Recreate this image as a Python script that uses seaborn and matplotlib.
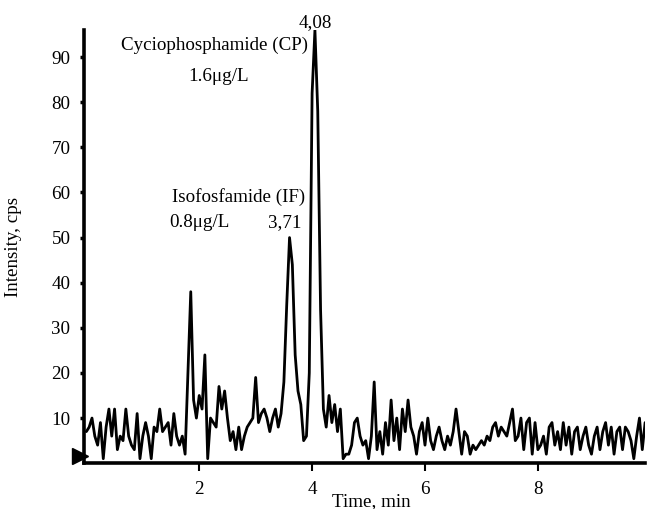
import numpy as np
import pandas as pd
import matplotlib
matplotlib.use("Agg")
import matplotlib.pyplot as plt
import seaborn as sns

# Chromatogram trace: intensity (cps) sampled every 0.05 min from 0 to 9.9 min
step_min = 0.05
intensity = [
    7, 8, 10, 6, 4, 9, 1, 8, 12, 6,          # 0.00-0.45
    12, 3, 6, 5, 12, 6, 4, 3, 11, 1,         # 0.50-0.95
    6, 9, 6, 1, 8, 7, 12, 7, 8, 9,           # 1.00-1.45
    4, 11, 6, 4, 6, 2, 20, 38, 14, 10,       # 1.50-1.95
    15, 12, 24, 1, 10, 9, 8, 17, 12, 16,     # 2.00-2.45
    10, 5, 7, 3, 8, 3, 6, 8, 9, 10,          # 2.50-2.95
    19, 9, 11, 12, 10, 7, 10, 12, 8, 11,     # 3.00-3.45
    18, 35, 50, 44, 24, 16, 13, 5, 6, 20,    # 3.50-3.95
    82, 96, 78, 34, 12, 8, 15, 9, 13, 7,     # 4.00-4.45
    12, 1, 2, 2, 4, 9, 10, 6, 4, 5,          # 4.50-4.95
    1, 6, 18, 3, 7, 2, 9, 4, 14, 5,          # 5.00-5.45
    10, 3, 12, 7, 14, 8, 6, 2, 7, 9,         # 5.50-5.95
    4, 10, 5, 3, 6, 8, 5, 3, 6, 4,           # 6.00-6.45
    7, 12, 7, 2, 7, 6, 2, 4, 3, 4,           # 6.50-6.95
    5, 4, 6, 5, 8, 9, 6, 8, 7, 6,            # 7.00-7.45
    9, 12, 5, 6, 10, 3, 9, 10, 2, 9,         # 7.50-7.95
    3, 4, 6, 2, 8, 9, 4, 7, 3, 9,            # 8.00-8.45
    4, 8, 2, 7, 8, 3, 6, 8, 4, 2,            # 8.50-8.95
    6, 8, 3, 7, 9, 4, 8, 2, 7, 8,            # 9.00-9.45
    3, 8, 7, 5, 1, 6, 10, 3, 9,              # 9.50-9.90
]
time_min = np.round(np.arange(len(intensity)) * step_min, 2)

x_ticks = [2, 4, 6, 8]
y_ticks = [10, 20, 30, 40, 50, 60, 70, 80, 90]

peak_labels = ["4,08", "3,71"]
compound_labels = ["Cyciophosphamide (CP)", "Isofosfamide (IF)"]
conc_labels = ["1.6μg/L", "0.8μg/L"]

# start marker (injection arrowhead)
start_t = [-0.12]
start_y = [1.5]

df = pd.DataFrame({"Time": time_min, "Intensity": intensity})

sns.set_style("ticks")
plt.rcParams["font.family"] = ["Liberation Serif", "DejaVu Serif"]
plt.rcParams["font.size"] = 13.7
plt.rcParams["text.color"] = "black"
plt.rcParams["axes.labelcolor"] = "black"

fig = plt.figure(figsize=(6.49, 5.09), dpi=100)
ax = fig.add_axes([0.130, 0.090, 0.864, 0.851])

sns.lineplot(data=df, x="Time", y="Intensity", color="black", lw=2.0,
             estimator=None, ax=ax)
ax.plot(start_t, start_y, marker=">", markersize=11, color="black",
        clip_on=False, lw=0)

ax.set_xlim(-0.035, 9.9)
ax.set_ylim(0, 96)
ax.set_xticks(x_ticks)
ax.set_yticks(y_ticks)
ax.set_xticklabels([str(v) for v in x_ticks])
ax.set_yticklabels([str(v) for v in y_ticks])

for side in ["top", "right"]:
    ax.spines[side].set_visible(False)
for side in ["left", "bottom"]:
    ax.spines[side].set_linewidth(2.6)
    ax.spines[side].set_color("black")

ax.tick_params(axis="x", direction="out", length=6, width=1.5, pad=7,
               labelsize=13.7, colors="black")
ax.tick_params(axis="y", direction="out", length=3, width=2.5, pad=7,
               labelsize=13.7, colors="black")

ax.set_xlabel("Time, min", fontsize=13.7)
ax.set_ylabel("Intensity, cps", fontsize=13.7)
ax.xaxis.set_label_coords(0.511, -0.07)
ax.yaxis.set_label_coords(-0.112, 0.5)

ax.text(4.05, 96.6, peak_labels[0], ha="center", va="baseline", clip_on=False)
ax.text(3.93, 91.6, compound_labels[0], ha="right", va="baseline")
ax.text(2.34, 84.6, conc_labels[0], ha="center", va="baseline")
ax.text(3.88, 58.0, compound_labels[1], ha="right", va="baseline")
ax.text(1.47, 52.4, conc_labels[1], ha="left", va="baseline")
ax.text(3.82, 52.4, peak_labels[1], ha="right", va="baseline")

fig.savefig("out.png", dpi=100)
